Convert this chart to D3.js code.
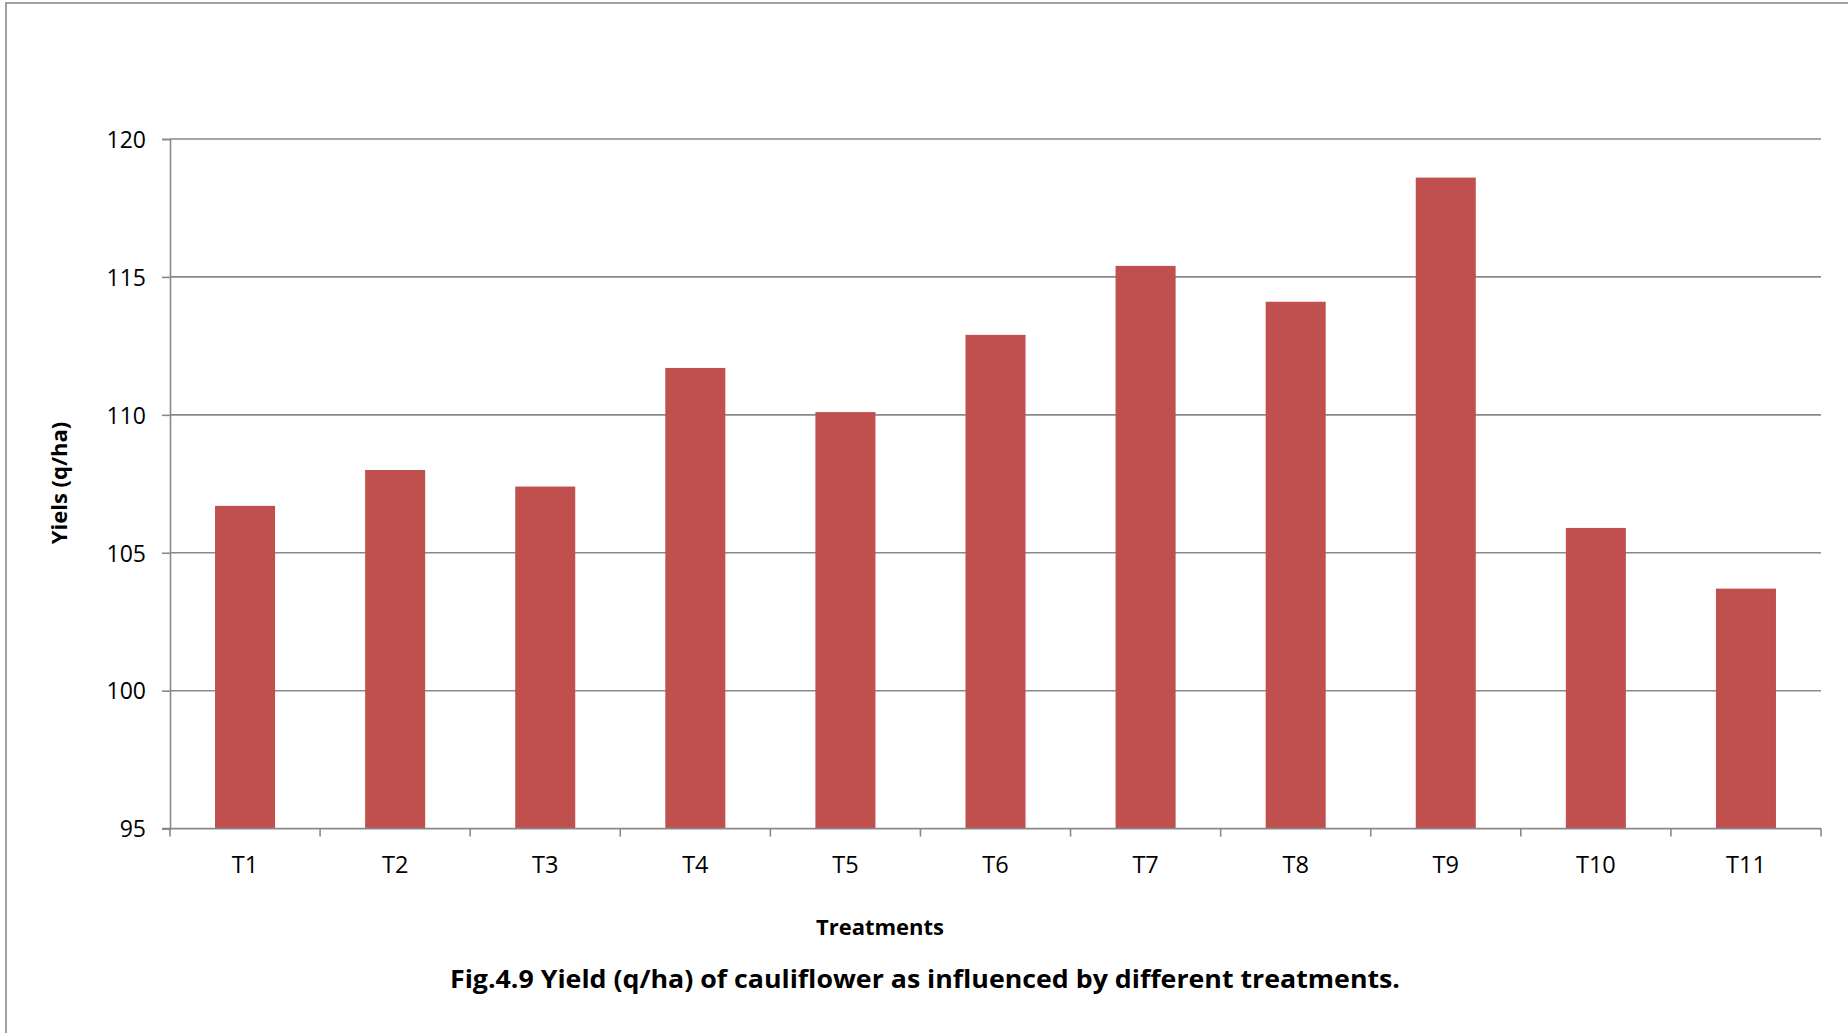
<!DOCTYPE html>
<html>
<head>
<meta charset="utf-8">
<script src="https://cdn.jsdelivr.net/npm/d3@7"></script>
<style>
  html, body { margin: 0; padding: 0; background: #fff; }
  svg { display: block; }
</style>
</head>
<body>
<svg id="chart" width="1848" height="1033"></svg>
<script>
// Yield of cauliflower (q/ha) under each treatment
const treatments = ["T1", "T2", "T3", "T4", "T5", "T6", "T7", "T8", "T9", "T10", "T11"];
const yields = [106.7, 108.0, 107.4, 111.7, 110.1, 112.9, 115.4, 114.1, 118.6, 105.9, 103.7];
const yTicks = [95, 100, 105, 110, 115, 120];

const chartTitle = "Fig.4.9 Yield (q/ha) of cauliflower as influenced by different treatments.";
const xTitle = "Treatments";
const yTitle = "Yiels (q/ha)";

const W = 1848, H = 1033;
const plot = { left: 170, right: 1821, top: 139, bottom: 828.6 };
const gridColor = "#898989";
const barColor = "#C0504D";
const font = "'Open Sans', 'Liberation Sans', sans-serif";

const svg = d3.select("#chart");

// outer chart frame (runs past the right and bottom edges)
svg.append("rect")
  .attr("x", 6).attr("y", 3)
  .attr("width", W + 20).attr("height", H + 20)
  .attr("fill", "#fff")
  .attr("stroke", "#8a8a8a")
  .attr("stroke-width", 1.6);

const x = d3.scaleBand()
  .domain(treatments)
  .range([plot.left, plot.right])
  .paddingInner(0.6)
  .paddingOuter(0.3);

const y = d3.scaleLinear()
  .domain([95, 120])
  .range([plot.bottom, plot.top]);

// horizontal gridlines + y axis
const yAxis = d3.axisLeft(y)
  .tickValues(yTicks)
  .tickSize(8)
  .tickPadding(16)
  .tickFormat(d3.format("d"));

const gy = svg.append("g")
  .attr("transform", `translate(${plot.left},0)`)
  .call(yAxis);
gy.select(".domain").attr("stroke", gridColor).attr("stroke-width", 1.6);
gy.selectAll(".tick line").attr("stroke", gridColor).attr("stroke-width", 1.6);
gy.selectAll(".tick text")
  .attr("font-family", font)
  .attr("font-size", 23)
  .attr("fill", "#000")
  .attr("dy", "0.36em");

svg.append("g")
  .selectAll("line")
  .data(yTicks.filter(t => t !== 95))
  .join("line")
  .attr("x1", plot.left).attr("x2", plot.right)
  .attr("y1", d => y(d)).attr("y2", d => y(d))
  .attr("stroke", gridColor)
  .attr("stroke-width", 1.6);

// bars
svg.append("g")
  .selectAll("rect")
  .data(treatments.map((t, i) => ({ t, v: yields[i] })))
  .join("rect")
  .attr("x", d => x(d.t))
  .attr("width", x.bandwidth())
  .attr("y", d => y(d.v))
  .attr("height", d => y(95) - y(d.v))
  .attr("fill", barColor);

// x axis: labels centred on bands, ticks between categories
const xAxis = d3.axisBottom(x).tickSize(0).tickPadding(44);
const gx = svg.append("g")
  .attr("transform", `translate(0,${plot.bottom})`)
  .call(xAxis);
gx.select(".domain").remove();
gx.selectAll(".tick text")
  .attr("font-family", font)
  .attr("font-size", 23.5)
  .attr("fill", "#000")
  .attr("dy", "0");

const step = x.step();
const boundaries = d3.range(treatments.length + 1).map(i => plot.left + i * step);
svg.append("line")
  .attr("x1", plot.left - 8).attr("x2", plot.right)
  .attr("y1", plot.bottom).attr("y2", plot.bottom)
  .attr("stroke", gridColor).attr("stroke-width", 1.6);
svg.append("g")
  .selectAll("line")
  .data(boundaries)
  .join("line")
  .attr("x1", d => d).attr("x2", d => d)
  .attr("y1", plot.bottom).attr("y2", plot.bottom + 8)
  .attr("stroke", gridColor).attr("stroke-width", 1.6);

// axis titles
svg.append("text")
  .attr("x", 880).attr("y", 935)
  .attr("text-anchor", "middle")
  .attr("font-family", font)
  .attr("font-weight", "bold")
  .attr("font-size", 22)
  .attr("fill", "#000")
  .text(xTitle);

svg.append("text")
  .attr("transform", "translate(67,483) rotate(-90)")
  .attr("text-anchor", "middle")
  .attr("font-family", font)
  .attr("font-weight", "bold")
  .attr("font-size", 22)
  .attr("fill", "#000")
  .text(yTitle);

// figure caption
svg.append("text")
  .attr("x", 450).attr("y", 988)
  .attr("font-family", font)
  .attr("font-weight", "bold")
  .attr("font-size", 25.5)
  .attr("fill", "#000")
  .attr("textLength", 950)
  .attr("lengthAdjust", "spacingAndGlyphs")
  .text(chartTitle);
</script>
</body>
</html>
